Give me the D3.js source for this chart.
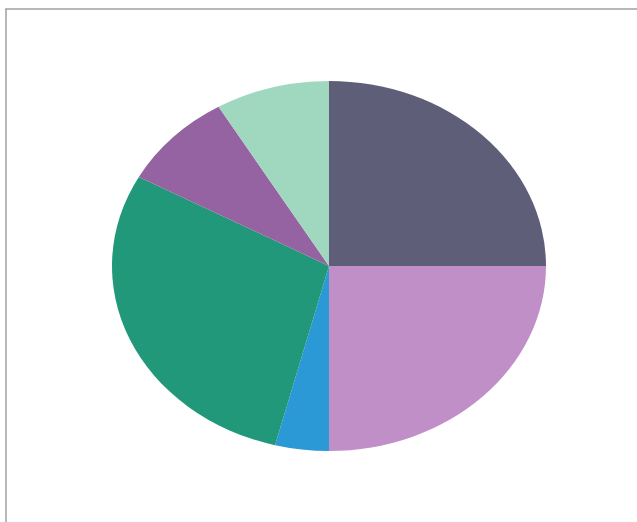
<!DOCTYPE html>
<html>
<head>
<meta charset="utf-8">
<script src="https://cdn.jsdelivr.net/npm/d3@7"></script>
<style>
  body { margin: 0; background: #fff; }
</style>
</head>
<body>
<div id="chart"></div>
<script>
// slice values, clockwise from 12 o'clock
var labels = ["A", "B", "C", "D", "E", "F"];
var values = [25, 25, 4, 29, 8.5, 8.5];
var colors = ["#5f5e79", "#c18fc7", "#2b99d6", "#22987a", "#9563a1", "#9fd7bf"];

var width = 637,
    height = 522;

var svg = d3.select("#chart")
    .append("svg")
    .attr("width", width)
    .attr("height", height);

// frame (only top and left edges show in the scan)
svg.append("line")
    .attr("x1", 5).attr("y1", 9).attr("x2", width).attr("y2", 9)
    .style("stroke", "#a0a0a0").style("stroke-width", 1.5);
svg.append("line")
    .attr("x1", 6).attr("y1", 9).attr("x2", 6).attr("y2", height)
    .style("stroke", "#a0a0a0").style("stroke-width", 1.5);

var rx = 217, ry = 185;

var pie = d3.pie()
    .sort(null)
    .value(function (d) { return d; });

var arc = d3.arc()
    .innerRadius(0)
    .outerRadius(ry);

var g = svg.append("g")
    .attr("transform", "translate(329,266) scale(" + (rx / ry) + ",1)");

g.selectAll("path")
    .data(pie(values))
    .enter()
    .append("path")
    .attr("d", arc)
    .style("fill", function (d, i) { return colors[i]; })
    .append("title")
    .text(function (d, i) { return labels[i]; });
</script>
</body>
</html>
